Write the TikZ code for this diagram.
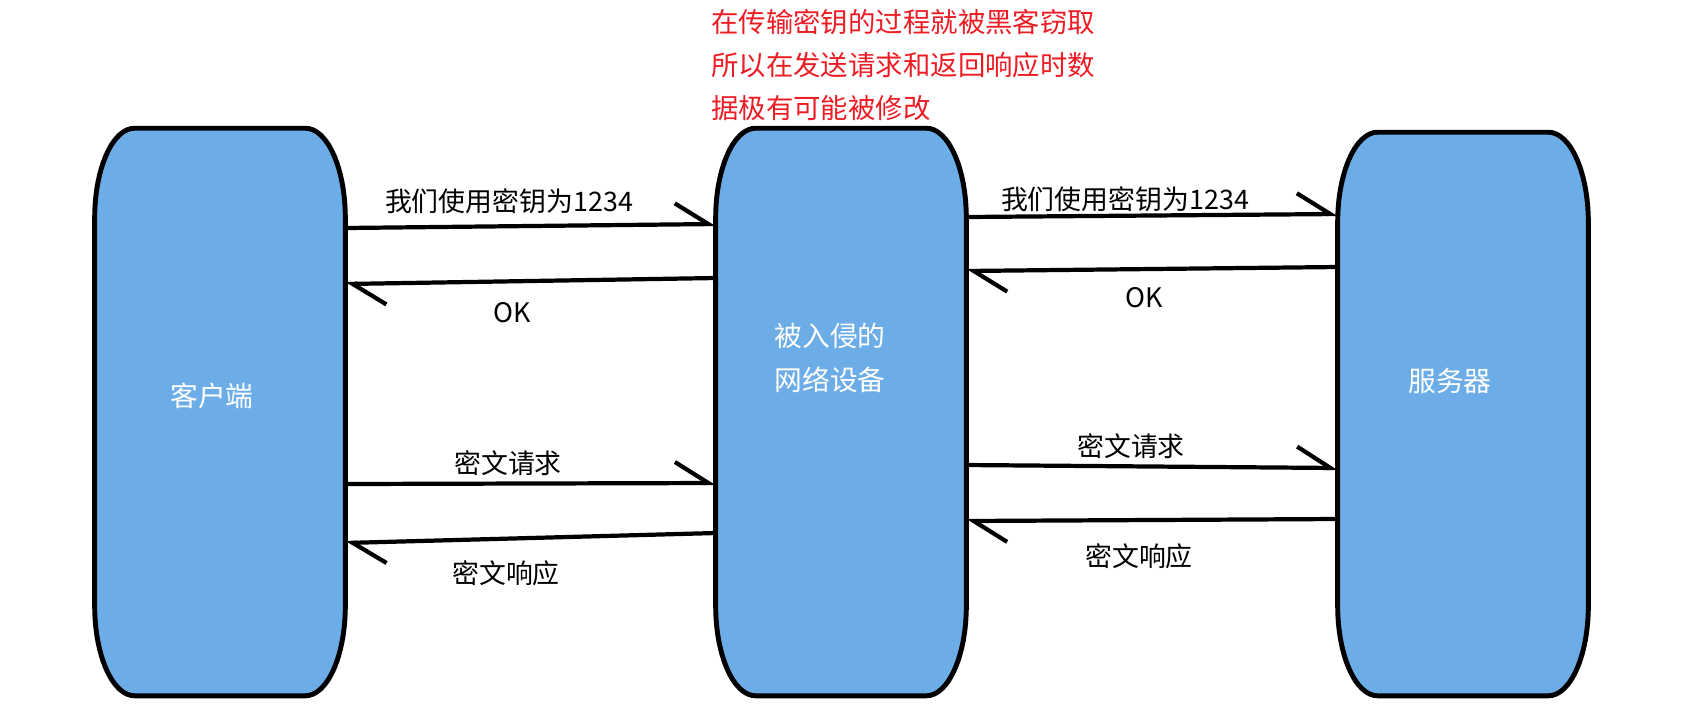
\documentclass[tikz,border=0pt]{standalone}
\usepackage{fontspec}
\setmainfont{Noto Sans CJK SC}
\usetikzlibrary{arrows.meta}

\definecolor{boxblue}{RGB}{108,173,232}
\definecolor{notered}{RGB}{237,28,36}

\tikzset{
  box/.style={minimum width=5cm, minimum height=11.34cm, inner sep=0pt},
  boxline/.style={line width=2.8pt, fill=boxblue},
  msg/.style={line width=2.4pt, -{Straight Barb[left, length=19pt, width=24pt]}},
  lbl/.style={font=\fontsize{15.3}{18}\selectfont},
  boxtext/.style={text=white, align=center, font=\fontsize{15.8}{25.5}\selectfont}
}

\begin{document}
\begin{tikzpicture}[x=0.02cm, y=-0.02cm]
    \useasboundingbox (0,0) rectangle (1687,725);

    % Boxes
    \node[box] (client) at (220,412) {};
    \node[box] (mitm) at (841,412) {};
    \node[box, minimum height=11.26cm] (server) at (1463,414) {};

    % Outlines with oval corners
    \foreach \n in {client,mitm,server}
        \draw[boxline] ([xshift=0.8cm]\n.north west) -- ([xshift=-0.8cm]\n.north east)
            arc[start angle=90, end angle=0, x radius=0.8cm, y radius=1.8cm]
            -- ([yshift=1.8cm]\n.south east)
            arc[start angle=0, end angle=-90, x radius=0.8cm, y radius=1.8cm]
            -- ([xshift=0.8cm]\n.south west)
            arc[start angle=270, end angle=180, x radius=0.8cm, y radius=1.8cm]
            -- ([yshift=-1.8cm]\n.north west)
            arc[start angle=180, end angle=90, x radius=0.8cm, y radius=1.8cm]
            -- cycle;

    % Box texts
    \node[boxtext] (clienttext) at (212,396) {客户端};
    \node[boxtext] (mitmtext) at (830,358) {被入侵的\\网络设备};
    \node[boxtext] (servertext) at (1450,381) {服务器};

    % Warning note
    \node[anchor=west, inner sep=0pt, align=left, text=notered,
          font=\fontsize{15.6}{24.4}\selectfont] (note) at (711,65)
        {在传输密钥的过程就被黑客窃取\\所以在发送请求和返回响应时数\\据极有可能被修改};

    % Client <-> device
    \draw[msg] (client.east |- 0,228) -- (mitm.west |- 0,224);
    \draw[msg] (mitm.west |- 0,278) -- (client.east |- 0,284);
    \draw[msg] (client.east |- 0,484) -- (mitm.west |- 0,483);
    \draw[msg] (mitm.west |- 0,533) -- (client.east |- 0,543);

    % Device <-> server
    \draw[msg] (mitm.east |- 0,217) -- (server.west |- 0,214);
    \draw[msg] (server.west |- 0,267) -- (mitm.east |- 0,271);
    \draw[msg] (mitm.east |- 0,465) -- (server.west |- 0,468);
    \draw[msg] (server.west |- 0,519) -- (mitm.east |- 0,521);

    % Labels
    \node[lbl] (key1) at (509,201) {我们使用密钥为1234};
    \node[lbl] (ok1) at (512,313) {OK};
    \node[lbl] (req1) at (508,463) {密文请求};
    \node[lbl] (resp1) at (506,573) {密文响应};
    \node[lbl] (key2) at (1125,199) {我们使用密钥为1234};
    \node[lbl] (ok2) at (1144,298) {OK};
    \node[lbl] (req2) at (1131,446) {密文请求};
    \node[lbl] (resp2) at (1139,556) {密文响应};
\end{tikzpicture}
\end{document}
